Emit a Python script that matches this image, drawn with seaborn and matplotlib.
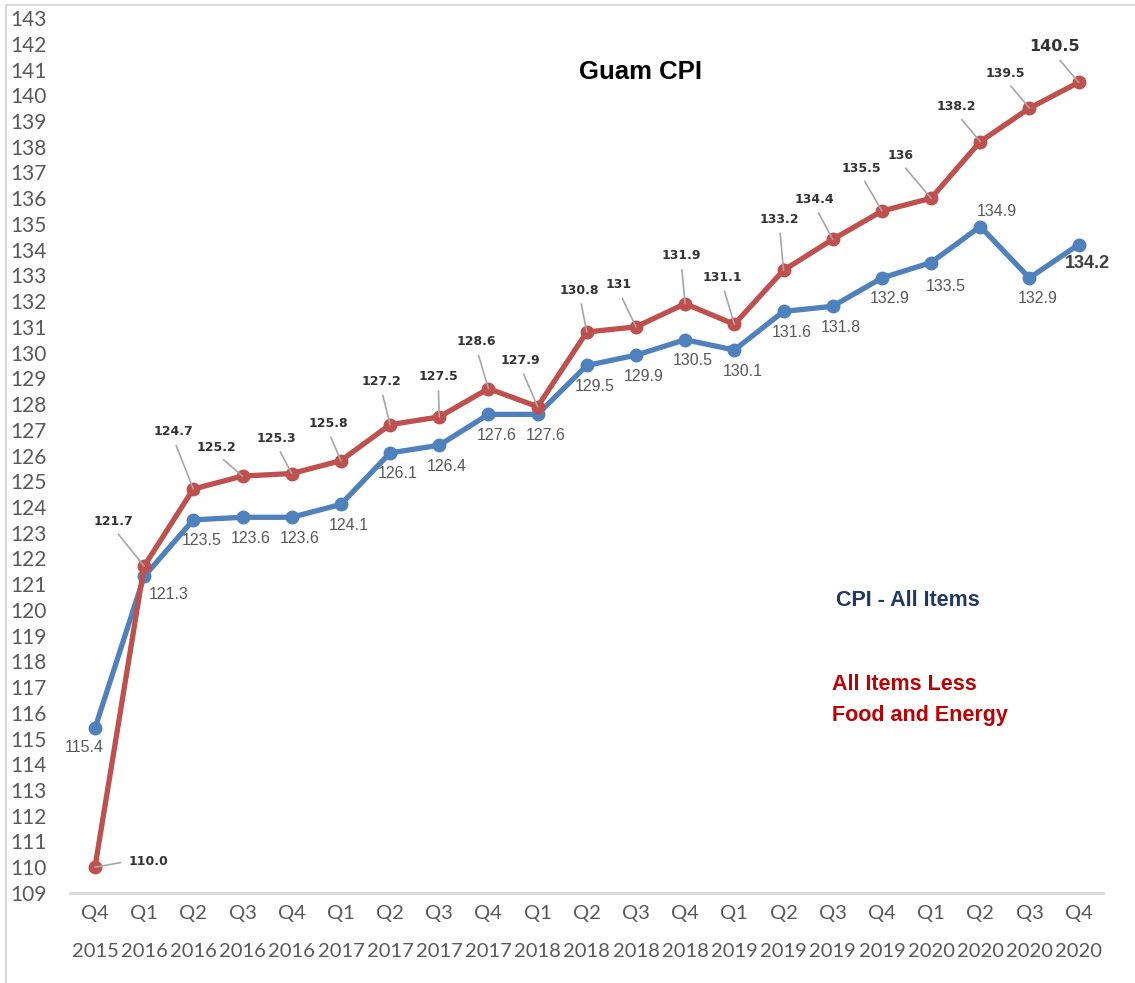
import numpy as np
import pandas as pd
import seaborn as sns
import matplotlib.pyplot as plt
from matplotlib.patches import Rectangle

# quarters shown on the x axis
quarters = ['Q4', 'Q1', 'Q2', 'Q3', 'Q4', 'Q1', 'Q2', 'Q3', 'Q4', 'Q1', 'Q2',
            'Q3', 'Q4', 'Q1', 'Q2', 'Q3', 'Q4', 'Q1', 'Q2', 'Q3', 'Q4']
years = ['2015', '2016', '2016', '2016', '2016', '2017', '2017', '2017', '2017',
         '2018', '2018', '2018', '2018', '2019', '2019', '2019', '2019',
         '2020', '2020', '2020', '2020']

# CPI - All Items
cpi_all = [115.4, 121.3, 123.5, 123.6, 123.6, 124.1, 126.1, 126.4, 127.6, 127.6,
           129.5, 129.9, 130.5, 130.1, 131.6, 131.8, 132.9, 133.5, 134.9, 132.9,
           134.2]
# All Items Less Food and Energy
cpi_core = [110.0, 121.7, 124.7, 125.2, 125.3, 125.8, 127.2, 127.5, 128.6, 127.9,
            130.8, 131.0, 131.9, 131.1, 133.2, 134.4, 135.5, 136.0, 138.2, 139.5,
            140.5]
core_labels = ['110.0', '121.7', '124.7', '125.2', '125.3', '125.8', '127.2',
               '127.5', '128.6', '127.9', '130.8', '131', '131.9', '131.1',
               '133.2', '134.4', '135.5', '136', '138.2', '139.5', '140.5']

n = len(quarters)
df = pd.DataFrame({
    'pos': list(range(n)) * 2,
    'value': cpi_all + cpi_core,
    'series': ['all'] * n + ['core'] * n,
})

BLUE = '#4F81BD'
RED = '#C0504D'

sns.set_style('white')
plt.rcParams['font.family'] = ['Lato', 'DejaVu Sans']

fig = plt.figure(figsize=(11.35, 9.83), dpi=100)
ax = fig.add_axes([0.062, 0.0916, 0.910, 0.890])

sns.lineplot(data=df, x='pos', y='value', hue='series', hue_order=['all', 'core'],
             palette=[BLUE, RED], marker='o', markersize=10, markeredgewidth=0,
             linewidth=3.8, legend=False, ax=ax)

ax.set_xlim(-0.5, n - 0.5)
ax.set_ylim(109, 143)
ax.set_yticks(np.arange(109, 144, 1))
ax.set_xticks(range(n))
ax.set_xticklabels([f'{q}\n{y}' for q, y in zip(quarters, years)],
                   linespacing=2.45)
ax.tick_params(axis='y', labelsize=15, labelcolor='#595959', length=0, pad=17)
ax.tick_params(axis='x', labelsize=14.5, labelcolor='#595959', length=0, pad=9)
ax.set_xlabel('')
ax.set_ylabel('')
for s in ['top', 'right', 'left']:
    ax.spines[s].set_visible(False)
ax.spines['bottom'].set_color('#D9D9D9')
ax.spines['bottom'].set_linewidth(2)

# blue data labels, mostly below-right of the points
blue_off = {0: (-11, -19), 1: (25, -18), 17: (15, -24), 18: (17, 15), 20: (9, -19)}
for i, v in enumerate(cpi_all):
    dx, dy = blue_off.get(i, (8, -21))
    big = i == n - 1
    ax.annotate(f'{v:.1f}', (i, v), xytext=(dx, dy), textcoords='offset pixels',
                ha='center', va='center', color='#404040' if big else '#595959',
                fontsize=13 if big else 11.5, fontweight='bold' if big else 'normal',
                family=['Liberation Sans Narrow', 'Liberation Sans'])

# red data labels with leader lines
red_off = [(53, 6), (-31, 45), (-20, 57), (-26, 29), (-15, 35), (-13, 37),
           (-9, 43), (-1, 40), (-12, 47), (-17, 46), (-7, 42), (-17, 42),
           (-4, 48), (-12, 47), (-4, 51), (-18, 40), (-21, 43), (-31, 43),
           (-24, 35), (-24, 35), (-24, 36)]
for i, (v, t) in enumerate(zip(cpi_core, core_labels)):
    dx, dy = red_off[i]
    rel = (0.0, 0.5) if i == 0 else (0.5, 0.0)
    ax.annotate(t, (i, v), xytext=(dx, dy), textcoords='offset pixels',
                ha='center', va='center', color='#333333',
                fontsize=11.5 if i == n - 1 else 9, fontweight='bold',
                family='DejaVu Sans',
                arrowprops=dict(arrowstyle='-', color='#A6A6A6', lw=1.2,
                                relpos=rel, shrinkA=3, shrinkB=0))

fig.text(0.564, 0.927, 'Guam CPI', ha='center', va='center', fontsize=18.5,
         fontweight='bold', color='black', family='Liberation Sans')
fig.text(0.7366, 0.3896, 'CPI - All Items', ha='left', va='center', fontsize=15.5,
         fontweight='bold', color='#1F3864',
         family=['Liberation Sans Narrow', 'Liberation Sans'])
fig.text(0.733, 0.304, 'All Items Less', ha='left', va='center', fontsize=15.5,
         fontweight='bold', color='#C00000',
         family=['Liberation Sans Narrow', 'Liberation Sans'])
fig.text(0.733, 0.2726, 'Food and Energy', ha='left', va='center', fontsize=15.5,
         fontweight='bold', color='#C00000',
         family=['Liberation Sans Narrow', 'Liberation Sans'])

# light frame around the chart
fig.patches.append(Rectangle((0.0053, -0.01), 1.02, 1.005, transform=fig.transFigure,
                             fill=False, edgecolor='#D9D9D9', lw=1.5))

fig.savefig('out.png', dpi=100)
